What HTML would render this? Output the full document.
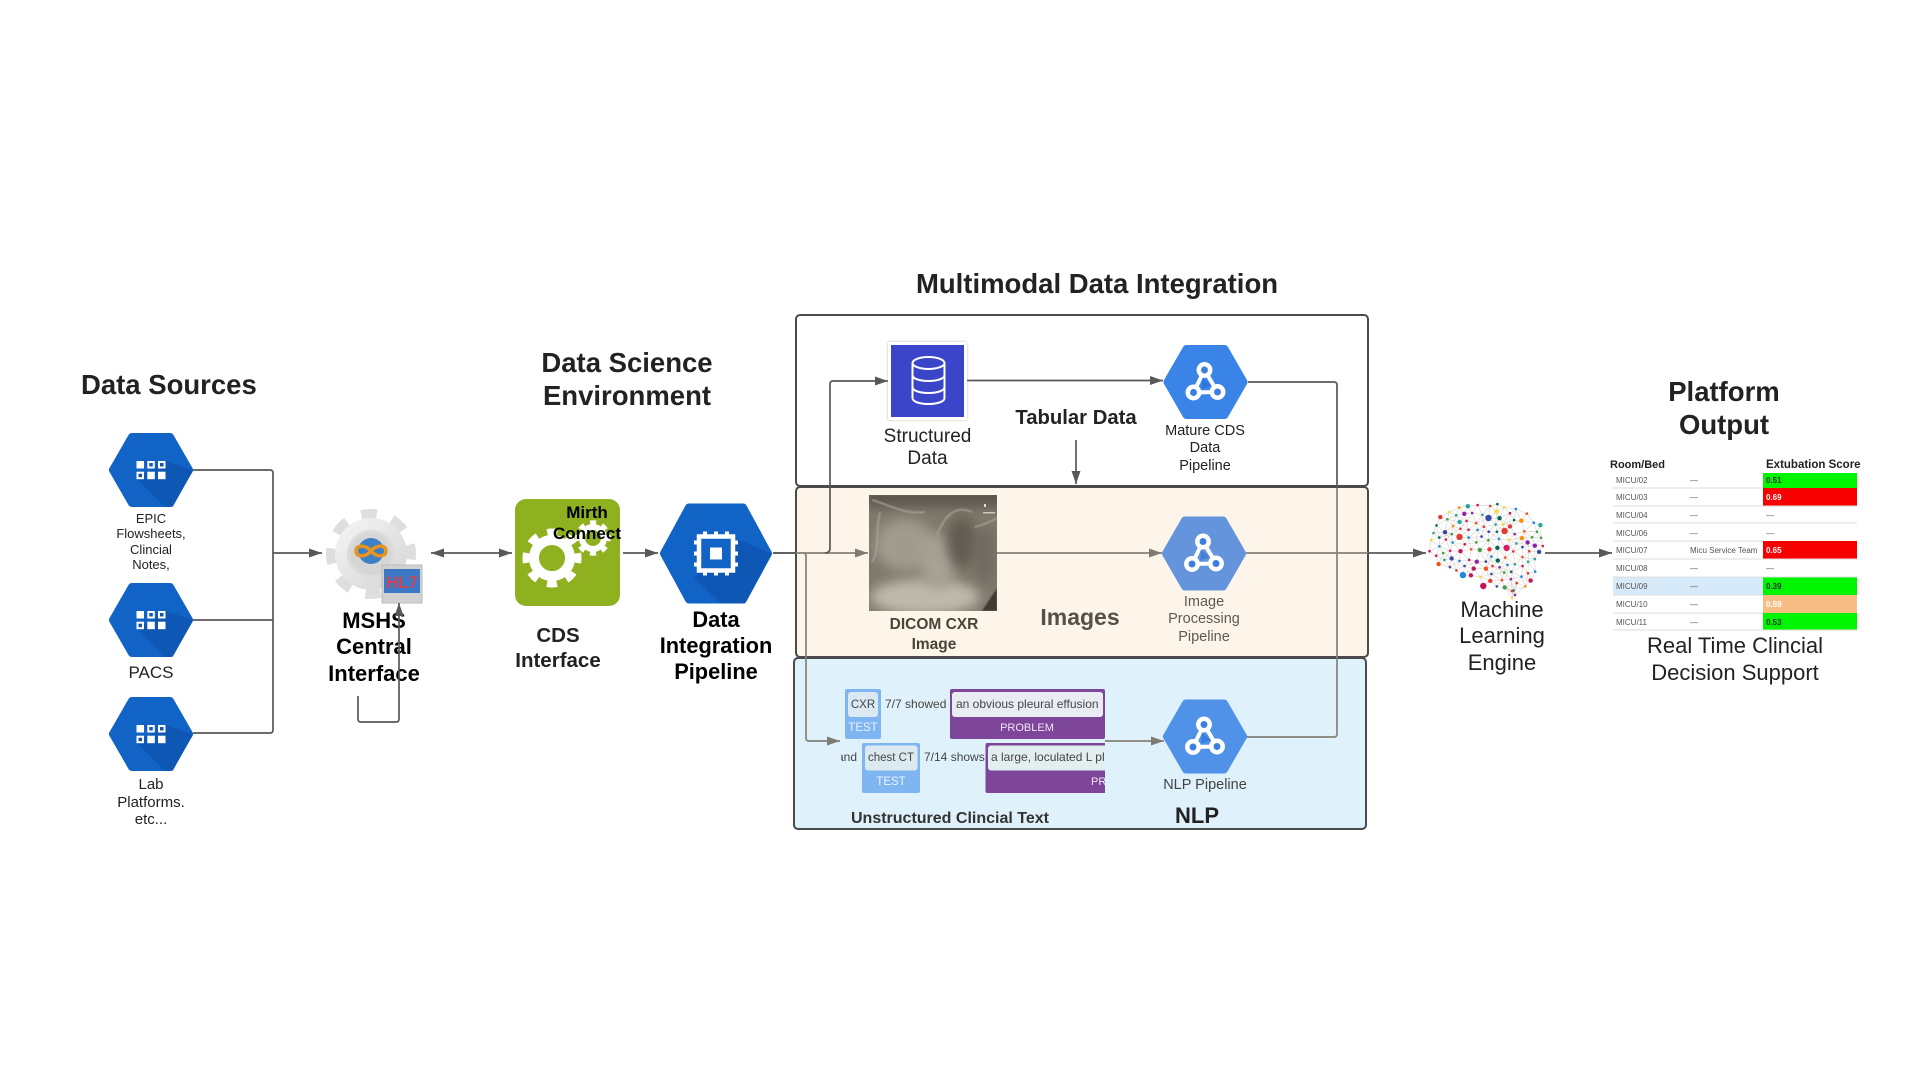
<!DOCTYPE html>
<html><head><meta charset="utf-8"><style>
html,body{margin:0;padding:0;background:#fff;width:1920px;height:1080px;overflow:hidden}
svg{display:block;font-family:"Liberation Sans",sans-serif}
text{fill:#222}
.b{font-weight:700}
.m{text-anchor:middle}
.l{fill:none;stroke:#585858;stroke-width:1.7;stroke-linejoin:round}
.lc{fill:none;stroke:#84817a;stroke-width:1.7}
.box{stroke:#4a4a4a;stroke-width:2}
.t{font-size:8px;fill:#555}
.s{font-size:8px;font-weight:700;fill:#333}
.n{font-size:12px;fill:#444}
</style></head><body>
<svg width="1920" height="1080" viewBox="0 0 1920 1080" xmlns="http://www.w3.org/2000/svg">
<defs>
<linearGradient id="gr" x1="0" y1="0" x2="1" y2="1"><stop offset="0" stop-color="#f6f6f6"/><stop offset="1" stop-color="#d4d4d4"/></linearGradient>
<filter id="bl" x="-60%" y="-60%" width="220%" height="220%"><feGaussianBlur stdDeviation="6"/></filter>
<filter id="bl2" x="-20%" y="-20%" width="140%" height="140%"><feGaussianBlur stdDeviation=".8"/></filter>
<filter id="sh" x="-10%" y="-10%" width="120%" height="120%"><feDropShadow dx="0" dy="0" stdDeviation="1.2" flood-color="#999" flood-opacity=".7"/></filter>
<clipPath id="xc"><rect x="869" y="495" width="128" height="116"/></clipPath>
<clipPath id="nc"><rect x="841" y="680" width="264" height="120"/></clipPath>
<clipPath id="hc"><path d="M-42,0 L-22,-37 L22,-37 L42,0 L22,37 L-22,37 Z"/></clipPath>
<g id="hexb">
<path d="M-38,0 L-19,-33 L19,-33 L38,0 L19,33 L-19,33 Z" fill="#1263c6" stroke="#1263c6" stroke-width="8" stroke-linejoin="round"/>
</g>
<g id="grid" fill="#fff">
<rect x="-14.500" y="-9" width="7.500" height="7.500"/><rect x="-3.700" y="-9" width="7.500" height="7.500"/><rect x="7" y="-9" width="7.500" height="7.500"/>
<rect x="-14.500" y="1.700" width="7.500" height="7.500"/><rect x="-3.700" y="1.700" width="7.500" height="7.500"/><rect x="7" y="1.700" width="7.500" height="7.500"/>
<rect x="-1.700" y="-7" width="3.500" height="3.500" fill="#1454ae"/><rect x="9" y="-7" width="3.500" height="3.500" fill="#1454ae"/><rect x="-12.500" y="3.700" width="3.500" height="3.500" fill="#1454ae"/>
</g>
<g id="srcHex">
<use href="#hexb"/>
<path d="M-14,9 L14,-9 L42,0 L22,37 L14,37 Z" fill="#0b4fa8" opacity=".55" clip-path="url(#hc)"/>
<use href="#grid"/>
</g>
<g id="pipe">
<path d="M-1,-12 L-12,10.500 L12,10 Z" fill="none" stroke="#fff" stroke-width="4"/>
<path d="M-3.500,-4 L6,3.500 L-3.500,7 Z" fill="#1f66d0" opacity=".45"/>
<circle cx="-1" cy="-12" r="5.700" fill="#3a7fe0" stroke="#fff" stroke-width="4.500"/>
<circle cx="-12" cy="10.500" r="5.700" fill="#3a7fe0" stroke="#fff" stroke-width="4.500"/>
<circle cx="12" cy="10" r="5.700" fill="#3a7fe0" stroke="#fff" stroke-width="4.500"/>
</g>
<marker id="a" viewBox="0 0 13 10" refX="13" refY="5" markerWidth="13" markerHeight="10" markerUnits="userSpaceOnUse" orient="auto-start-reverse"><path d="M0,0.500 L13,5 L0,9.500 Z" fill="#585858"/></marker>
<marker id="ac" viewBox="0 0 13 10" refX="13" refY="5" markerWidth="13" markerHeight="10" markerUnits="userSpaceOnUse" orient="auto"><path d="M0,0.500 L13,5 L0,9.500 Z" fill="#7e7b73"/></marker>
</defs>

<!-- Boxes -->
<rect class="box" x="796" y="315" width="572" height="171" rx="4" fill="#fff"/>
<rect class="box" x="796" y="487" width="572" height="170" rx="4" fill="#fdf5ea"/>
<rect class="box" x="794" y="658" width="572" height="171" rx="4" fill="#dff1fb"/>

<!-- Titles -->
<text x="81" y="394" class="b" font-size="27.500">Data Sources</text>
<text x="627" y="372" class="b m" font-size="27.500">Data Science</text>
<text x="627" y="405" class="b m" font-size="27.500">Environment</text>
<text x="1097" y="293" class="b m" font-size="27.500">Multimodal Data Integration</text>
<text x="1724" y="401" class="b m" font-size="27.500">Platform</text>
<text x="1724" y="434" class="b m" font-size="27.500">Output</text>

<!-- Source connectors -->
<path class="l" d="M193,470 H270 Q273,470 273,473 V730 Q273,733 270,733 H193"/>
<path class="l" d="M193,620 H273"/>
<path class="l" d="M273,553 H322" marker-end="url(#a)"/>

<use href="#srcHex" x="151" y="470"/>
<use href="#srcHex" x="151" y="620"/>
<use href="#srcHex" x="151" y="734"/>

<text class="m" font-size="13" x="151" y="523">EPIC</text>
<text class="m" font-size="13" x="151" y="538">Flowsheets,</text>
<text class="m" font-size="13" x="151" y="554">Clincial</text>
<text class="m" font-size="13" x="151" y="569">Notes,</text>
<text class="m" font-size="17" x="151" y="678">PACS</text>
<text class="m" font-size="15" x="151" y="789">Lab</text>
<text class="m" font-size="15" x="151" y="807">Platforms.</text>
<text class="m" font-size="15" x="151" y="824">etc...</text>

<!-- MSHS gear -->
<g transform="translate(371,554)">
<circle r="40" fill="none" stroke="#dedede" stroke-width="10" stroke-dasharray="15.500 15.920" stroke-dashoffset="10" />
<circle r="36" fill="url(#gr)"/>
<circle r="24" fill="#dcdcdc"/>
<circle r="21" fill="#d6d6d6"/>
<circle r="13" cy="-3" fill="#3f7fc4"/>
<path d="M-15,-3 C-15,-10 -5,-9 0,-3 C5,3 15,4 15,-3 C15,-10 5,-9 0,-3 C-5,3 -15,4 -15,-3 Z" fill="none" stroke="#e8941f" stroke-width="3.500"/>
</g>
<g>
<rect x="382" y="565" width="40" height="38" fill="#d2d2d2" stroke="#bbb"/>
<rect x="384" y="569" width="36" height="24" fill="#3c78c4"/>
<text x="402" y="588" class="m b" font-size="16.500" style="fill:#d8434f">HL7</text>
</g>
<text x="374" y="628" class="m b" font-size="22" style="fill:#000">MSHS</text>
<text x="374" y="654" class="m b" font-size="22" style="fill:#000">Central</text>
<text x="374" y="681" class="m b" font-size="22" style="fill:#000">Interface</text>
<path class="l" d="M358,696 V719 Q358,722 361,722 H396 Q399,722 399,719 V603" marker-end="url(#a)"/>

<!-- Double arrow and CDS -->
<path class="l" d="M431,553 H512" marker-start="url(#a)" marker-end="url(#a)"/>
<rect x="515" y="499" width="105" height="107" rx="11" fill="#8fb11f"/>
<g transform="translate(552,558)">
<circle r="26" fill="none" stroke="#fff" stroke-width="7" stroke-dasharray="10 10.420" stroke-dashoffset="5"/>
<circle r="18" fill="none" stroke="#fff" stroke-width="10"/>
</g>
<g transform="translate(593,538)">
<circle r="15.500" fill="none" stroke="#fff" stroke-width="4.500" stroke-dasharray="6 6.170" stroke-dashoffset="3"/>
<circle r="11" fill="none" stroke="#fff" stroke-width="6"/>
</g>
<text x="587" y="518" class="m b" font-size="17" style="fill:#000">Mirth</text>
<text x="587" y="539" class="m b" font-size="17" style="fill:#000">Connect</text>
<text x="558" y="642" class="m b" font-size="20.500">CDS</text>
<text x="558" y="667" class="m b" font-size="20.500">Interface</text>
<path class="l" d="M623,553 H658" marker-end="url(#a)"/>

<!-- Data integration hex -->
<g transform="translate(716,553.500)">
<path d="M-52,0 L-27,-46 L27,-46 L52,0 L27,46 L-27,46 Z" fill="#1263c6" stroke="#1263c6" stroke-width="8" stroke-linejoin="round"/>
<path d="M-22,24 L22,-14 L55,0 L29,50 L5,50 Z" fill="#0b4fa8" opacity=".55"/>
<rect x="-17" y="-17" width="34" height="34" fill="#1263c6" stroke="#fff" stroke-width="4.500"/>
<rect x="-6" y="-6" width="12" height="12" fill="#fff"/>
<path d="M-11,-22 V-17 M0,-22 V-17 M11,-22 V-17 M-11,17 V22 M0,17 V22 M11,17 V22 M-22,-11 H-17 M-22,0 H-17 M-22,11 H-17 M17,-11 H22 M17,0 H22 M17,11 H22" stroke="#fff" stroke-width="4" fill="none"/>
</g>
<text x="716" y="627" class="m b" font-size="21.800" style="fill:#000">Data</text>
<text x="716" y="653" class="m b" font-size="21.800" style="fill:#000">Integration</text>
<text x="716" y="679" class="m b" font-size="21.800" style="fill:#000">Pipeline</text>

<!-- Integration connectors -->
<path class="lc" d="M773,553 H868" marker-end="url(#ac)"/>
<path class="l" d="M773,553 H796"/>
<path class="l" d="M825,553 Q830,553 830,548 V384 Q830,381 833,381 H888" marker-end="url(#a)"/>
<path class="lc" d="M803,553 Q806,553 806,556 V738 Q806,741 809,741 H840" marker-end="url(#ac)"/>
<path class="l" d="M1248,382 H1334 Q1337,382 1337,385 V488"/>
<path class="lc" d="M1337,488 V734 Q1337,737 1334,737 H1245"/>
<path class="lc" d="M1246,553 H1368"/>
<path class="l" d="M1368,553 H1426" marker-end="url(#a)"/>
<path class="l" d="M1545,553 H1612" marker-end="url(#a)"/>
<path class="l" d="M967,380.500 H1163" marker-end="url(#a)"/>
<path class="lc" d="M997,553 H1162" marker-end="url(#ac)"/>
<path class="lc" d="M1105,741 H1164" marker-end="url(#ac)"/>
<path class="l" d="M1076,440 V484" marker-end="url(#a)"/>

<!-- Structured data -->
<rect x="888" y="342" width="79" height="78" fill="#fff" filter="url(#sh)"/>
<rect x="891" y="345" width="73" height="72" fill="#3b45c9"/>
<g transform="translate(928.500,381)" fill="none" stroke="#fff" stroke-width="2">
<ellipse cx="0" cy="-18" rx="16" ry="6"/>
<path d="M-16,-18 V17 C-16,25 16,25 16,17 V-18 M-16,-6 C-16,2 16,2 16,-6 M-16,6 C-16,14 16,14 16,6"/>
</g>
<text x="927.500" y="442" class="m" font-size="19">Structured</text>
<text x="927.500" y="464" class="m" font-size="19">Data</text>
<text x="1076" y="424" class="m b" font-size="20.300">Tabular Data</text>

<!-- Mature hex -->
<g transform="translate(1205.500,382)">
<path d="M-38,0 L-19,-33 L19,-33 L38,0 L19,33 L-19,33 Z" fill="#3a84e8" stroke="#3a84e8" stroke-width="8" stroke-linejoin="round"/>
<use href="#pipe"/>
</g>
<text x="1205" y="435" class="m" font-size="14.500">Mature CDS</text>
<text x="1205" y="452" class="m" font-size="14.500">Data</text>
<text x="1205" y="470" class="m" font-size="14.500">Pipeline</text>

<!-- X-ray -->
<g clip-path="url(#xc)">
<rect x="869" y="495" width="128" height="116" fill="#7f796d"/>
<rect x="865" y="490" width="140" height="16" fill="#57524a" filter="url(#bl)"/>
<ellipse cx="905" cy="545" rx="30" ry="26" fill="#a09b8f" filter="url(#bl)"/>
<ellipse cx="925" cy="597" rx="55" ry="18" fill="#bdbaac" filter="url(#bl)"/>
<ellipse cx="938" cy="562" rx="18" ry="28" fill="#a6a295" filter="url(#bl)"/>
<ellipse cx="962" cy="542" rx="15" ry="26" fill="#625c51" filter="url(#bl)"/>
<ellipse cx="985" cy="555" rx="10" ry="30" fill="#6f695e" filter="url(#bl)"/>
<path d="M872,500 C890,505 905,515 925,512 M937,535 C945,515 955,505 972,512 M975,527 C982,525 990,522 997,518 M880,512 C875,530 880,550 872,562" stroke="#a9a395" stroke-width="1.500" fill="none" filter="url(#bl2)"/>
<path d="M997,588 L997,611 L982,611 Z" fill="#403b32" filter="url(#bl2)"/>
<rect x="984" y="504" width="2" height="3" fill="#ddd"/>
<rect x="983" y="512" width="12" height="1.500" fill="#cfc9bc"/>
</g>
<text x="934" y="629" class="m b" font-size="15.500" style="fill:#4a4438">DICOM CXR</text>
<text x="934" y="649" class="m b" font-size="15.500" style="fill:#4a4438">Image</text>
<text x="1080" y="625" class="m b" font-size="23" style="fill:#555049">Images</text>

<!-- Image hex -->
<g transform="translate(1204,553.500)">
<path d="M-38,0 L-19,-33 L19,-33 L38,0 L19,33 L-19,33 Z" fill="#6394dc" stroke="#6394dc" stroke-width="8" stroke-linejoin="round"/>
<use href="#pipe"/>
</g>
<text x="1204" y="606" class="m" font-size="14.500" style="fill:#5c5a56">Image</text>
<text x="1204" y="623" class="m" font-size="14.500" style="fill:#5c5a56">Processing</text>
<text x="1204" y="641" class="m" font-size="14.500" style="fill:#5c5a56">Pipeline</text>

<!-- NLP annotation -->
<g clip-path="url(#nc)">
<rect x="845" y="689" width="36" height="50" rx="2" fill="#7fb6f2"/>
<rect x="848" y="692" width="30" height="25" rx="3" fill="#dbe9f4"/>
<text x="863" y="708" class="m" font-size="11.500" style="fill:#444">CXR</text>
<text x="863" y="731" class="m" font-size="11.500" style="fill:#e8f2fd">TEST</text>
<text x="885" y="708" class="n">7/7 showed</text>
<rect x="950" y="689" width="155" height="50" rx="2" fill="#7d4699"/>
<rect x="952" y="692" width="151" height="25" rx="3" fill="#e9edf3"/>
<text x="956" y="708" class="n">an obvious pleural effusion</text>
<text x="1027" y="731" class="m" font-size="11" style="fill:#f0e6f6">PROBLEM</text>
<text x="857" y="761" class="n" text-anchor="end">and</text>
<rect x="862" y="743" width="58" height="50" rx="2" fill="#7fb6f2"/>
<rect x="865" y="745.500" width="52.500" height="25" rx="3" fill="#dbeaf0"/>
<text x="891" y="761" class="m" font-size="11.500" style="fill:#444">chest CT</text>
<text x="891" y="785" class="m" font-size="11.500" style="fill:#e8f2fd">TEST</text>
<text x="924" y="761" class="n">7/14 shows</text>
<rect x="985.500" y="743" width="140" height="50" rx="2" fill="#7d4699"/>
<rect x="988" y="745.500" width="140" height="25" rx="3" fill="#e3eef1"/>
<text x="991" y="761" class="n">a large, loculated L pleural</text>
<text x="1091" y="785" font-size="11" style="fill:#f0e6f6">PROBLEM</text>
</g>
<g transform="translate(1205,736.500)">
<path d="M-38,0 L-19,-33 L19,-33 L38,0 L19,33 L-19,33 Z" fill="#4f92e8" stroke="#4f92e8" stroke-width="8" stroke-linejoin="round"/>
<use href="#pipe"/>
</g>
<text x="1205" y="789" class="m" font-size="14.500" style="fill:#444">NLP Pipeline</text>
<text x="1197" y="823" class="m b" font-size="22">NLP</text>
<text x="851" y="823" class="b" font-size="16" style="fill:#333">Unstructured Clincial Text</text>

<!-- Brain -->
<g id="brain"></g>
<text x="1502" y="617" class="m" font-size="22">Machine</text>
<text x="1502" y="643" class="m" font-size="22">Learning</text>
<text x="1502" y="670" class="m" font-size="22">Engine</text>

<!-- Table -->
<text x="1610" y="468" class="b" font-size="11">Room/Bed</text>
<text x="1766" y="468" class="b" font-size="11.500">Extubation Score</text>
<rect x="1613" y="577" width="150" height="18" fill="#d6eafa"/>
<rect x="1763" y="473" width="94" height="15" fill="#00f500"/>
<rect x="1763" y="488" width="94" height="18" fill="#f60000"/>
<rect x="1763" y="541" width="94" height="18" fill="#f60000"/>
<rect x="1763" y="577" width="94" height="18" fill="#00f500"/>
<rect x="1763" y="595" width="94" height="18" fill="#f8bd85"/>
<rect x="1763" y="613" width="94" height="17" fill="#00f500"/>
<path d="M1613,488 H1763 M1613,506 H1857 M1613,523 H1857 M1613,541 H1763 M1613,559 H1857 M1613,577 H1857 M1613,595 H1763 M1613,613 H1763 M1613,630 H1857" stroke="#ddd" stroke-width="1"/>
<g class="t">
<text class="t" x="1616" y="483">MICU/02</text><text class="t" x="1616" y="500">MICU/03</text><text class="t" x="1616" y="518">MICU/04</text><text class="t" x="1616" y="536">MICU/06</text><text class="t" x="1616" y="553">MICU/07</text><text class="t" x="1616" y="571">MICU/08</text><text class="t" x="1616" y="589">MICU/09</text><text class="t" x="1616" y="607">MICU/10</text><text class="t" x="1616" y="625">MICU/11</text>
<text class="t" x="1690" y="483">—</text><text class="t" x="1690" y="500">—</text><text class="t" x="1690" y="518">—</text><text class="t" x="1690" y="536">—</text><text class="t" x="1690" y="553">Micu Service Team</text><text class="t" x="1690" y="571">—</text><text class="t" x="1690" y="589">—</text><text class="t" x="1690" y="607">—</text><text class="t" x="1690" y="625">—</text>
<text class="t" x="1766" y="518">—</text><text class="t" x="1766" y="536">—</text><text class="t" x="1766" y="571">—</text>
</g>
<text class="s" x="1766" y="483">0.51</text>
<text class="s" x="1766" y="500" style="fill:#fff">0.69</text>
<text class="s" x="1766" y="553" style="fill:#fff">0.65</text>
<text class="s" x="1766" y="589">0.39</text>
<text class="s" x="1766" y="607" style="fill:#fff">0.59</text>
<text class="s" x="1766" y="625">0.53</text>
<text x="1735" y="653" class="m" font-size="22">Real Time Clincial</text>
<text x="1735" y="680" class="m" font-size="22">Decision Support</text>
</svg>
<script>
(function(){
var g=document.getElementById('brain'),s=12345;
function r(){s=(s*1103515245+12345)&0x7fffffff;return s/0x7fffffff}
var cols=['#d81b60','#e53935','#1e88e5','#3949ab','#43a047','#26a69a','#fb8c00','#fdd835','#8e24aa','#00695c','#c2185b','#f4511e'];
function inside(x,y){
 var dx=(x-1486)/60,dy=(y-541)/38;
 if(dx*dx+dy*dy<=1)return true;
 var ex=(x-1506)/34,ey=(y-572)/19;
 if(ex*ex+ey*ey<=1)return true;
 return false;
}
var p=[];
for(var t=0;t<8000&&p.length<190;t++){
 var x=1426+r()*120,y=503+r()*92;
 if(!inside(x,y))continue;
 var ok=true;for(var i=0;i<p.length;i++){var a=p[i][0]-x,b=p[i][1]-y;if(a*a+b*b<48){ok=false;break}}
 if(ok)p.push([x,y]);
}
p.push([1512,591],[1515,595],[1512,598]);
var h='';
for(var i=0;i<p.length;i++){for(var j=i+1;j<p.length;j++){var a=p[i][0]-p[j][0],b=p[i][1]-p[j][1];if(a*a+b*b<180)h+='<line x1="'+p[i][0].toFixed(1)+'" y1="'+p[i][1].toFixed(1)+'" x2="'+p[j][0].toFixed(1)+'" y2="'+p[j][1].toFixed(1)+'" stroke="#d6d2cb" stroke-width=".6"/>'}}
for(var i=0;i<p.length;i++){var q=r(),rad=q<.05?3.200:q<.25?2.200:1.300;h+='<circle cx="'+p[i][0].toFixed(1)+'" cy="'+p[i][1].toFixed(1)+'" r="'+rad+'" fill="'+cols[Math.floor(r()*cols.length)]+'"/>'}
g.innerHTML=h;
})();
</script>
</body></html>
